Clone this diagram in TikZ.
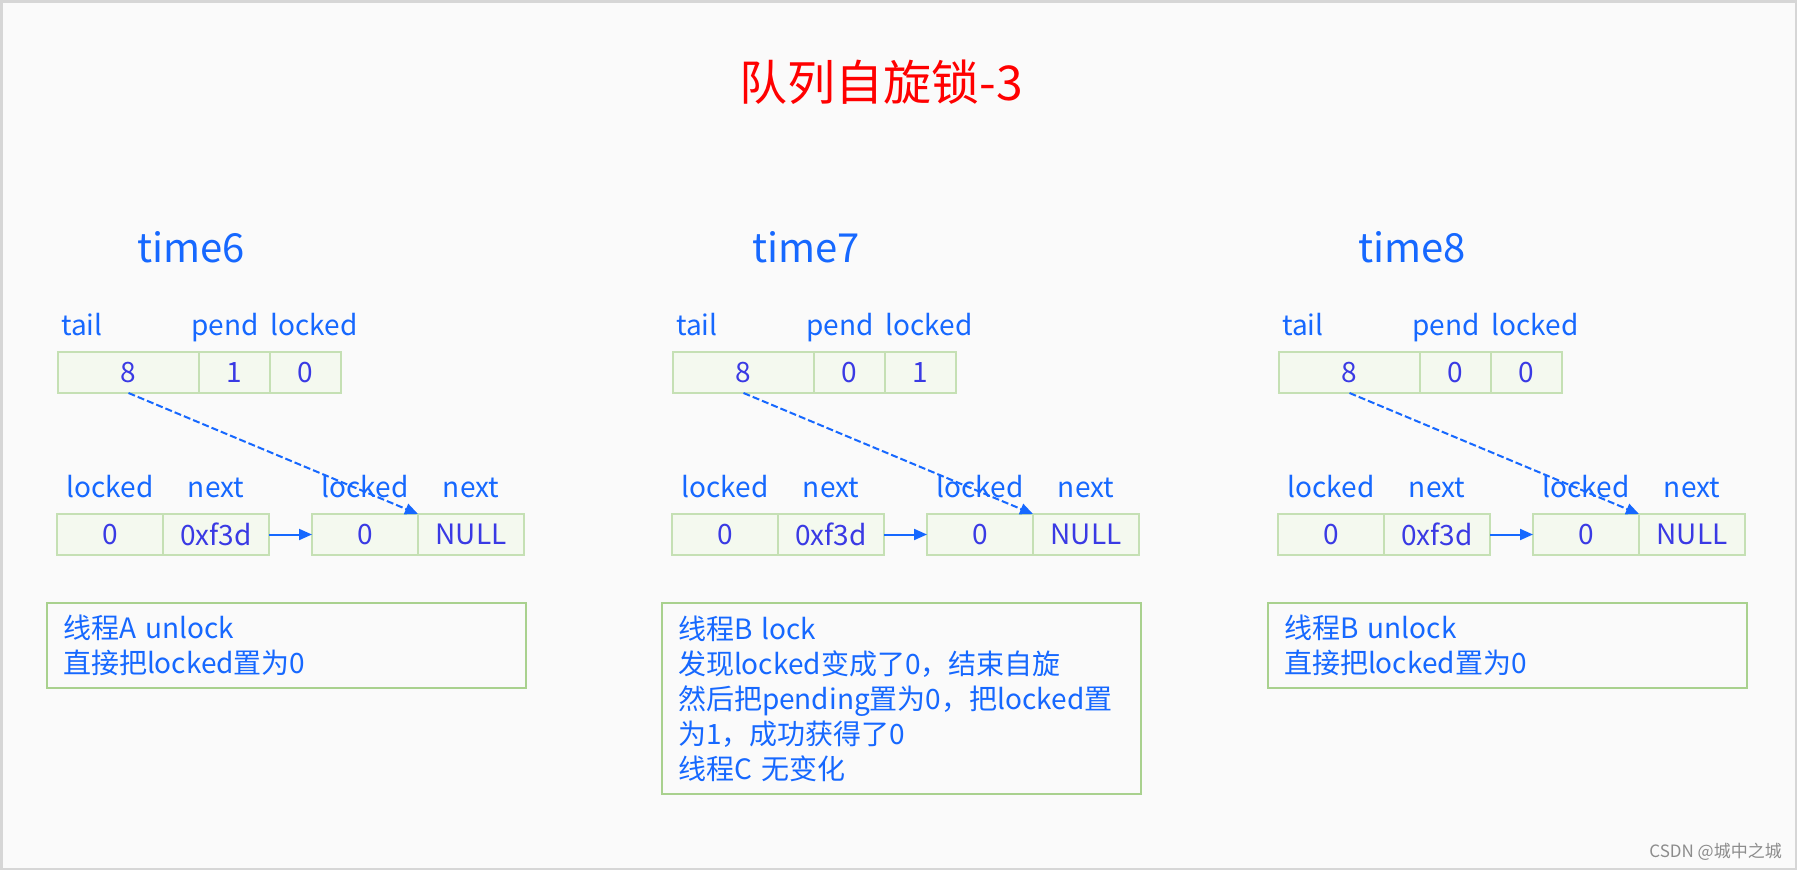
\documentclass[tikz,border=0pt]{standalone}
\usepackage{fontspec}
\setmainfont{Noto Sans CJK SC}
\usetikzlibrary{arrows.meta,positioning}

\definecolor{lblblue}{RGB}{22,104,255}
\definecolor{valblue}{RGB}{58,58,228}
\definecolor{cellfill}{RGB}{244,249,239}
\definecolor{celldraw}{RGB}{197,224,180}
\definecolor{notedraw}{RGB}{169,209,142}
\definecolor{bggray}{RGB}{250,250,250}
\definecolor{framegray}{RGB}{214,214,214}
\newcommand{\pxfont}[2]{\fontsize{#1pt}{#2pt}\selectfont}

\begin{document}
\begin{tikzpicture}[
    x=1pt, y=-1pt,
    cell/.style={rectangle, draw=celldraw, fill=cellfill, line width=2pt, outer sep=0pt, inner sep=0pt, minimum height=41pt, text=valblue, font=\pxfont{28}{34}},
    lbl/.style={text=lblblue, font=\pxfont{28}{34}, inner sep=0pt, text height=20pt, text depth=6pt},
    stamp/.style={text=lblblue, font=\pxfont{40}{48}, inner sep=0pt, anchor=base},
    note/.style={rectangle, draw=notedraw, line width=2pt, anchor=north west, text width=447pt, inner xsep=16pt, align=left, text=lblblue, font=\pxfont{28}{35}},
    ptr/.style={-{Triangle[length=13pt,width=11pt]}, draw=lblblue, line width=2pt},
    label distance=10.5pt
]

% Canvas and frame
\useasboundingbox (0,0) rectangle (1797,870);
\fill[bggray] (0,0) rectangle (1797,870);
\draw[framegray, line width=2.5pt] (1.25,1.25) rectangle (1795.75,868.75);

% Title
\node[text=red, font=\pxfont{48}{56}, inner sep=0pt, anchor=base] (title) at (881,100) {队列自旋锁-3};

% One panel per time step
\foreach \dx/\tm/\pv/\lv/\nh/\txt in {
    0/6/1/0/85/{线程A unlock\\直接把locked置为0},
    615/7/0/1/191/{线程B lock\\发现locked变成了0，结束自旋\\然后把pending置为0，把locked置\\为1，成功获得了0\\线程C 无变化},
    1221/8/0/0/85/{线程B unlock\\直接把locked置为0}} {

  \node[stamp] (time\tm) at ({191+\dx},262) {time\tm};

  % Lock word
  \node[cell, minimum width=141pt, label={[lbl, anchor=south west, xshift=-67.5pt]above:tail}] (tail\tm) at ({128.5+\dx},372.5) {8};
  \node[cell, minimum width=71pt, right=0pt of tail\tm, label={[lbl, xshift=-9.5pt]above:pend}] (pend\tm) {\pv};
  \node[cell, minimum width=71pt, right=0pt of pend\tm, label={[lbl, xshift=8.5pt]above:locked}] (lock\tm) {\lv};

  % Queue nodes
  \node[cell, minimum width=106pt, label={[lbl]above:locked}] (lckA\tm) at ({110+\dx},534.5) {0};
  \node[cell, minimum width=106pt, right=0pt of lckA\tm, label={[lbl]above:next}] (nxtA\tm) {0xf3d};
  \node[cell, minimum width=106pt, right=43pt of nxtA\tm, label={[lbl]above:locked}] (lckB\tm) {0};
  \node[cell, minimum width=106pt, right=0pt of lckB\tm, label={[lbl]above:next}] (nxtB\tm) {NULL};

  % Pointers
  \draw[ptr] (nxtA\tm.east) -- (lckB\tm.west);
  \draw[ptr, dash pattern=on 7pt off 3pt] (tail\tm.south) -- (lckB\tm.north east);

  % Description
  \node[note, minimum height=\nh pt] (note\tm) at ({46+\dx},602) {\txt};
}

% Watermark
\node[text=black!45, font=\pxfont{17}{20}, inner sep=0pt, anchor=base east] (mark) at (1782,857) {CSDN @城中之城};

\end{tikzpicture}
\end{document}
